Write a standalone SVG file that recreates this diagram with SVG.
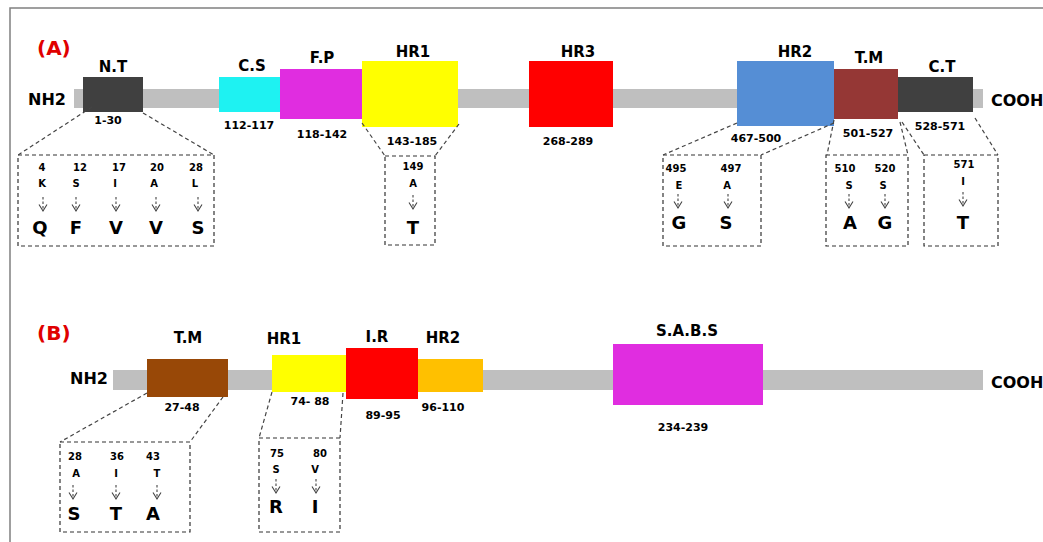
<svg xmlns="http://www.w3.org/2000/svg" width="1043" height="542" viewBox="0 0 1043 542">
<style>
text{font-family:"DejaVu Sans","Liberation Sans",sans-serif;font-weight:bold;text-anchor:middle;fill:#000}
.lbl{font-size:15px}
.rng{font-size:11px}
.pos{font-size:10px}
.aa{font-size:10px}
.mut{font-size:18px}
.term{font-size:16px;text-anchor:start}
.panel{font-size:20px;fill:#e00000;text-anchor:start}
.bar{fill:#bfbfbf}
.dbox{fill:none;stroke:#333;stroke-width:1.2;stroke-dasharray:4,3}
.dl{fill:none;stroke:#444;stroke-width:1.2;stroke-dasharray:4,3}
.frame{fill:none;stroke:#808080;stroke-width:1.5}
</style>
<defs>
<g id="arr" fill="none" stroke="#444" stroke-width="1.1">
<path d="M0,0 V14" stroke-dasharray="2.5,2"/>
<path d="M-4,7.5 L0,14 L4,7.5"/>
</g>
</defs>
<rect width="1043" height="542" fill="#fff"/>
<path class="frame" d="M10,542 V8 H1043"/>

<!-- Panel A -->
<text class="panel" x="37" y="55">(A)</text>
<rect class="bar" x="74" y="89" width="909" height="19"/>
<text class="term" x="28" y="105">NH2</text>
<text class="term" x="991" y="106">COOH</text>

<g id="a-nt">
<rect x="83" y="77" width="60" height="35" fill="#404040"/>
<text class="lbl" x="113" y="72">N.T</text>
<text class="rng" x="108" y="124">1-30</text>
</g>
<g id="a-cs">
<rect x="219" y="77" width="61" height="35" fill="#1ef2f2"/>
<text class="lbl" x="252" y="71">C.S</text>
<text class="rng" x="249" y="129">112-117</text>
</g>
<g id="a-fp">
<rect x="280" y="69" width="82" height="50" fill="#e02de0"/>
<text class="lbl" x="322" y="63">F.P</text>
<text class="rng" x="322" y="138">118-142</text>
</g>
<g id="a-hr1">
<rect x="362" y="61" width="96" height="66" fill="#ffff00"/>
<text class="lbl" x="413" y="57">HR1</text>
<text class="rng" x="412" y="145">143-185</text>
</g>
<g id="a-hr3">
<rect x="529" y="61" width="84" height="66" fill="#ff0000"/>
<text class="lbl" x="578" y="57">HR3</text>
<text class="rng" x="568" y="145">268-289</text>
</g>
<g id="a-hr2">
<rect x="737" y="61" width="97" height="65" fill="#558ed5"/>
<text class="lbl" x="795" y="57">HR2</text>
<text class="rng" x="756" y="142">467-500</text>
</g>
<g id="a-tm">
<rect x="834" y="69" width="64" height="50" fill="#953735"/>
<text class="lbl" x="869" y="63">T.M</text>
<text class="rng" x="868" y="137">501-527</text>
</g>
<g id="a-ct">
<rect x="898" y="77" width="75" height="35" fill="#404040"/>
<text class="lbl" x="942" y="72">C.T</text>
<text class="rng" x="940" y="130">528-571</text>
</g>

<!-- Panel A mutation boxes -->
<g id="a-nt-mut">
<rect class="dbox" x="18" y="155" width="196" height="91"/>
<text class="pos" x="42" y="171">4</text>
<text class="pos" x="80" y="171">12</text>
<text class="pos" x="119" y="171">17</text>
<text class="pos" x="157" y="171">20</text>
<text class="pos" x="196" y="171">28</text>
<text class="aa" x="42" y="187">K</text>
<text class="aa" x="76" y="187">S</text>
<text class="aa" x="115" y="187">I</text>
<text class="aa" x="154" y="187">A</text>
<text class="aa" x="195" y="187">L</text>
<use href="#arr" x="43" y="197"/>
<use href="#arr" x="76" y="197"/>
<use href="#arr" x="116" y="197"/>
<use href="#arr" x="156" y="197"/>
<use href="#arr" x="198" y="197"/>
<text class="mut" x="40" y="234">Q</text>
<text class="mut" x="76" y="234">F</text>
<text class="mut" x="116" y="234">V</text>
<text class="mut" x="156" y="234">V</text>
<text class="mut" x="198" y="234">S</text>
</g>
<g id="a-hr1-mut">
<rect class="dbox" x="385" y="156" width="50" height="89"/>
<text class="pos" x="413" y="170">149</text>
<text class="aa" x="413" y="187">A</text>
<use href="#arr" x="413" y="195"/>
<text class="mut" x="413" y="234">T</text>
</g>
<g id="a-hr2-mut">
<rect class="dbox" x="663" y="155" width="98" height="91"/>
<text class="pos" x="676" y="172">495</text>
<text class="pos" x="731" y="172">497</text>
<text class="aa" x="679" y="189">E</text>
<text class="aa" x="727" y="189">A</text>
<use href="#arr" x="678" y="194"/>
<use href="#arr" x="728" y="194"/>
<text class="mut" x="679" y="229">G</text>
<text class="mut" x="726" y="229">S</text>
</g>
<g id="a-tm-mut">
<rect class="dbox" x="826" y="155" width="82" height="91"/>
<text class="pos" x="845" y="172">510</text>
<text class="pos" x="885" y="172">520</text>
<text class="aa" x="849" y="189">S</text>
<text class="aa" x="883" y="189">S</text>
<use href="#arr" x="849" y="194"/>
<use href="#arr" x="885" y="194"/>
<text class="mut" x="850" y="229">A</text>
<text class="mut" x="885" y="229">G</text>
</g>
<g id="a-ct-mut">
<rect class="dbox" x="924" y="155" width="74" height="91"/>
<text class="pos" x="964" y="168">571</text>
<text class="aa" x="963" y="185">I</text>
<use href="#arr" x="963" y="192"/>
<text class="mut" x="963" y="229">T</text>
</g>

<!-- Panel B -->
<text class="panel" x="37" y="340">(B)</text>
<rect class="bar" x="113" y="370" width="870" height="20"/>
<text class="term" x="70" y="384">NH2</text>
<text class="term" x="991" y="388">COOH</text>

<g id="b-tm">
<rect x="147" y="359" width="81" height="38" fill="#984807"/>
<text class="lbl" x="188" y="343">T.M</text>
<text class="rng" x="182" y="411">27-48</text>
</g>
<g id="b-hr1">
<rect x="272" y="355" width="74" height="37" fill="#ffff00"/>
<text class="lbl" x="284" y="344">HR1</text>
<text class="rng" x="310" y="405">74- 88</text>
</g>
<g id="b-ir">
<rect x="346" y="348" width="72" height="51" fill="#ff0000"/>
<text class="lbl" x="377" y="342">I.R</text>
<text class="rng" x="383" y="419">89-95</text>
</g>
<g id="b-hr2">
<rect x="418" y="359" width="65" height="33" fill="#ffc000"/>
<text class="lbl" x="443" y="343">HR2</text>
<text class="rng" x="443" y="411">96-110</text>
</g>
<g id="b-sabs">
<rect x="613" y="344" width="150" height="61" fill="#e02de0"/>
<text class="lbl" x="687" y="336">S.A.B.S</text>
<text class="rng" x="683" y="431">234-239</text>
</g>

<g id="b-tm-mut">
<rect class="dbox" x="60" y="442" width="130" height="90"/>
<text class="pos" x="75" y="460">28</text>
<text class="pos" x="117" y="460">36</text>
<text class="pos" x="153" y="460">43</text>
<text class="aa" x="76" y="477">A</text>
<text class="aa" x="116" y="477">I</text>
<text class="aa" x="157" y="477">T</text>
<use href="#arr" x="73" y="485"/>
<use href="#arr" x="116" y="485"/>
<use href="#arr" x="157" y="485"/>
<text class="mut" x="74" y="520">S</text>
<text class="mut" x="116" y="520">T</text>
<text class="mut" x="153" y="520">A</text>
</g>
<g id="b-hr1-mut">
<rect class="dbox" x="259" y="438" width="81" height="94"/>
<text class="pos" x="277" y="457">75</text>
<text class="pos" x="320" y="457">80</text>
<text class="aa" x="276" y="473">S</text>
<text class="aa" x="315" y="473">V</text>
<use href="#arr" x="276" y="479"/>
<use href="#arr" x="316" y="479"/>
<text class="mut" x="276" y="513">R</text>
<text class="mut" x="315" y="513">I</text>
</g>

<!-- Connectors -->
<g id="connectors">
<path class="dl" d="M92,107 L18,155"/>
<path class="dl" d="M143,113 L214,155"/>
<path class="dl" d="M362,123 L385,156"/>
<path class="dl" d="M459,124 L435,156"/>
<path class="dl" d="M737,123 L663,155"/>
<path class="dl" d="M834,123 L761,155"/>
<path class="dl" d="M834,120 L827,155"/>
<path class="dl" d="M900,122 L908,155"/>
<path class="dl" d="M902,122 L924,155"/>
<path class="dl" d="M975,118 L998,155"/>
<path class="dl" d="M147,393 L60,442"/>
<path class="dl" d="M223,397 L190,442"/>
<path class="dl" d="M272,392 L259,438"/>
<path class="dl" d="M343,393 L340,438"/>
</g>
</svg>
